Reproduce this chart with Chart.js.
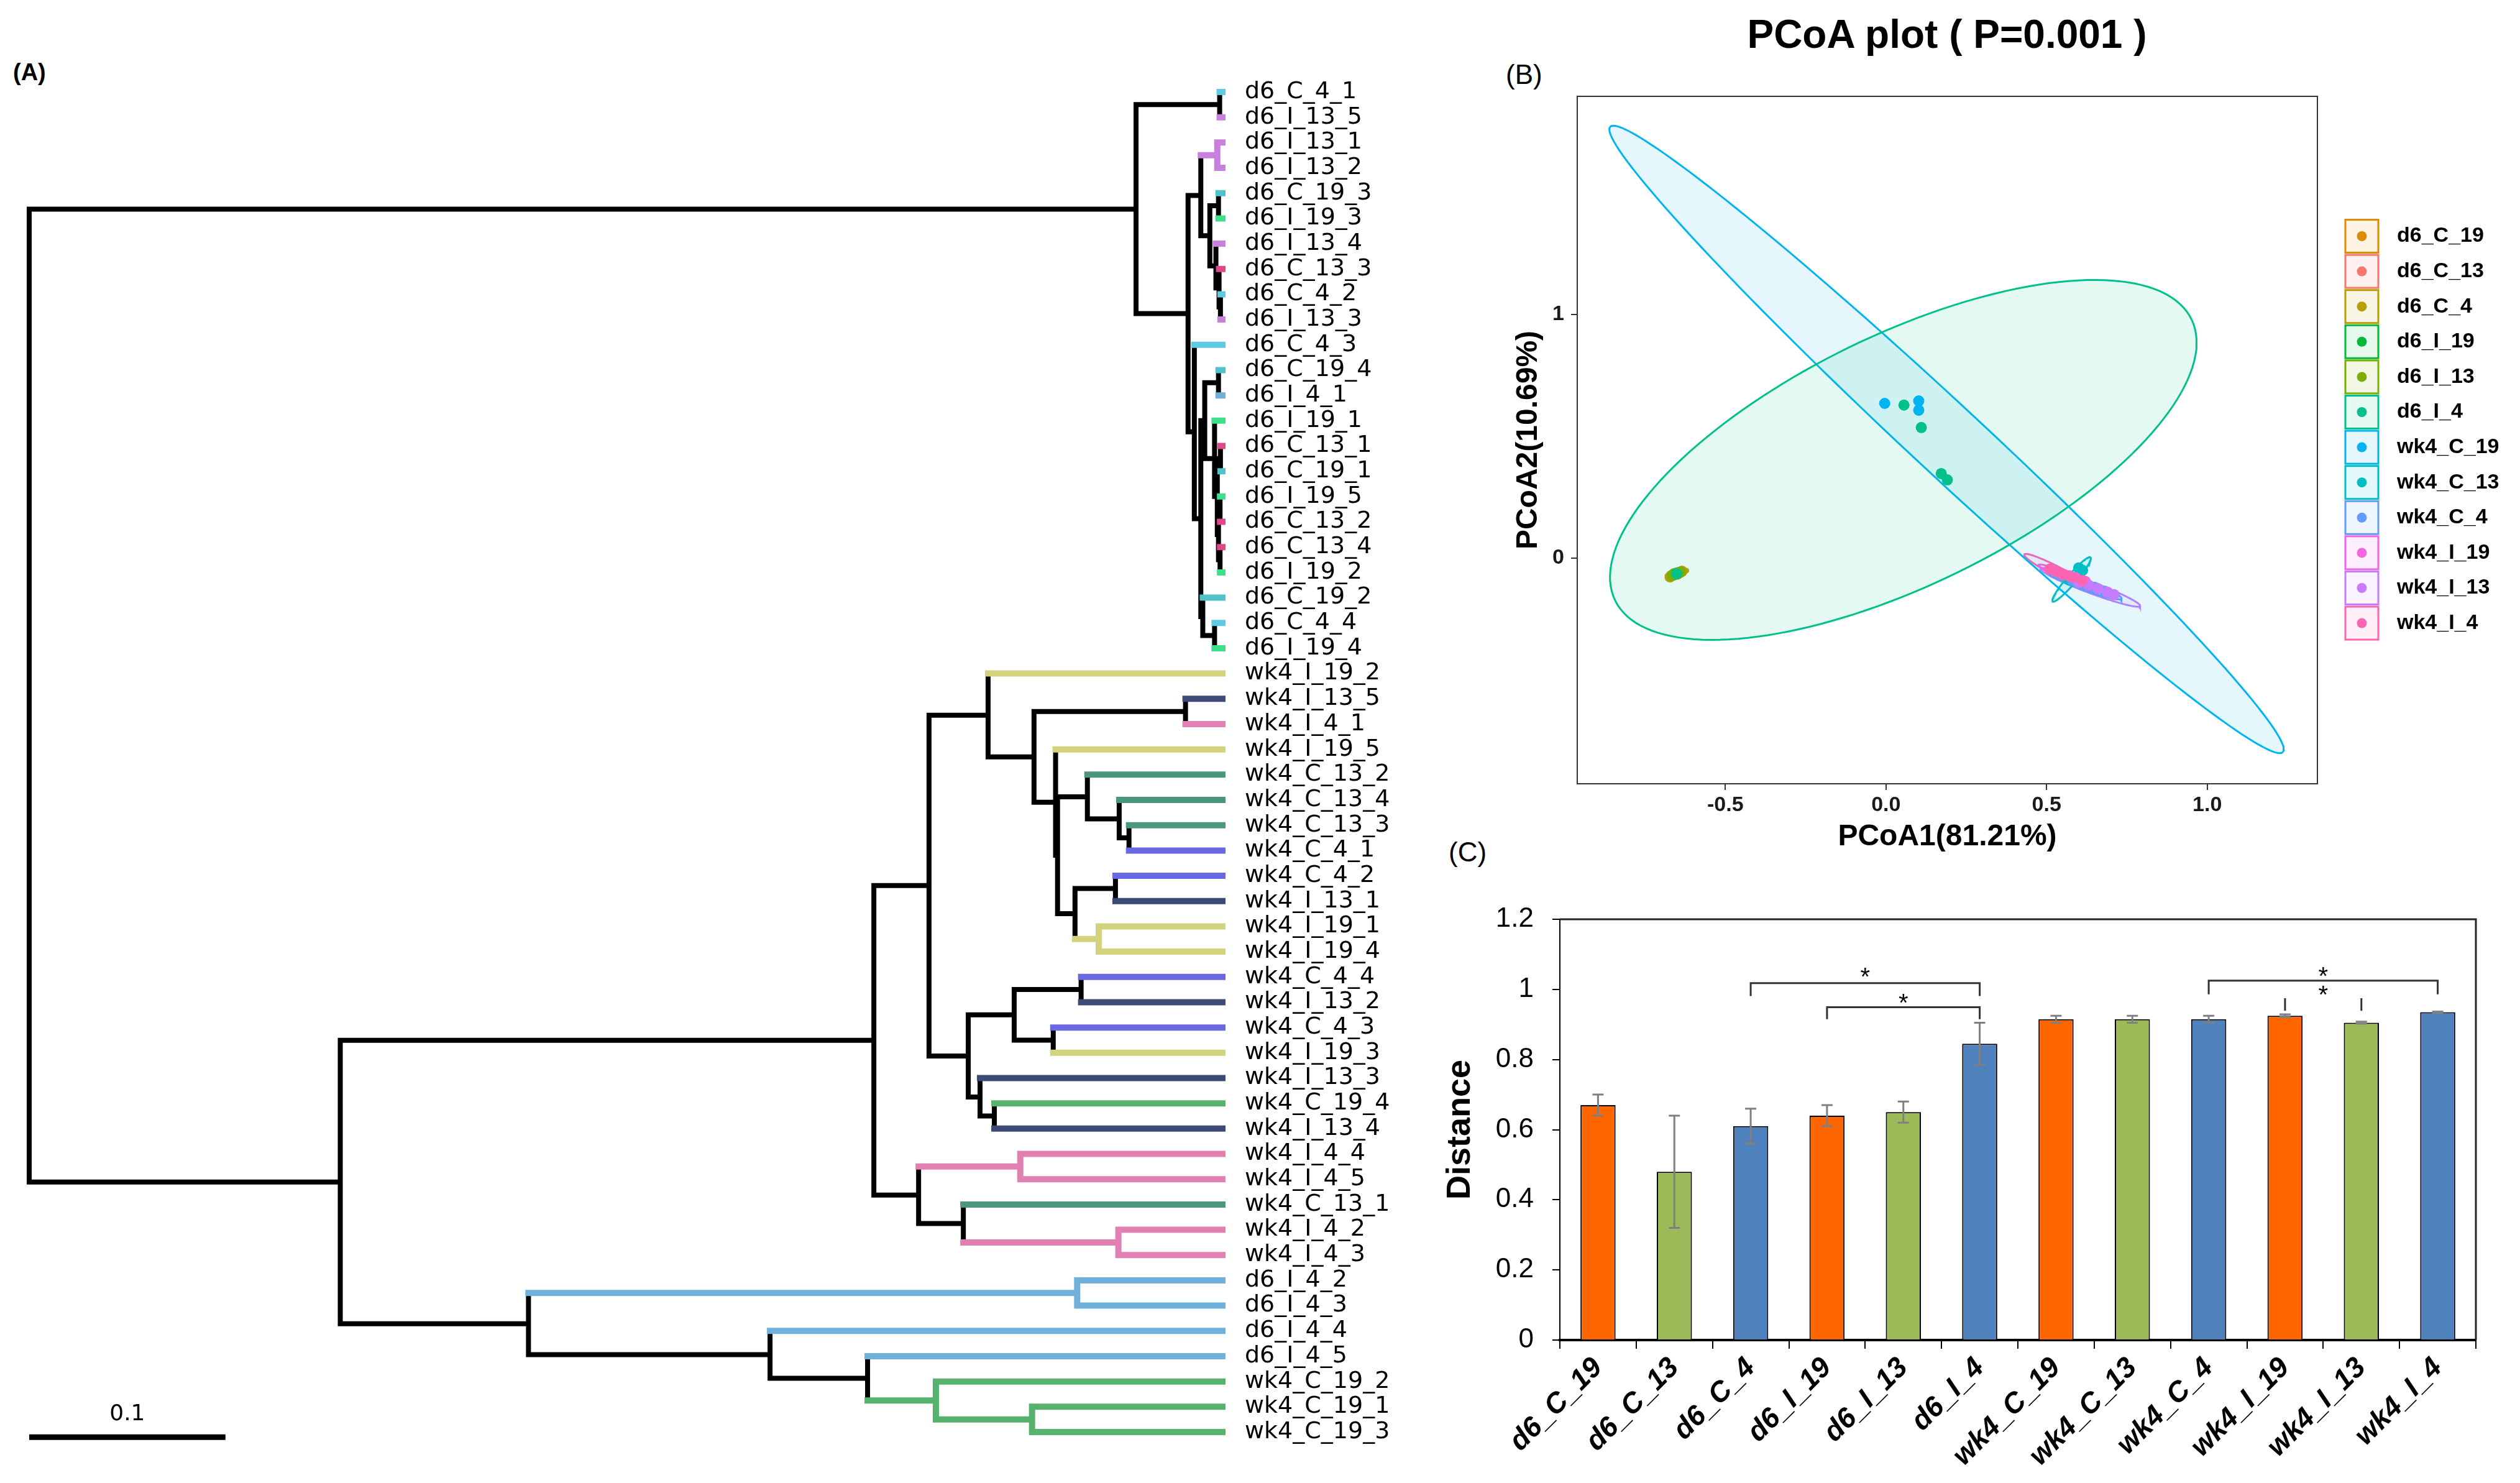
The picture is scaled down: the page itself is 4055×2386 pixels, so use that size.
<!DOCTYPE html>
<html><head><meta charset="utf-8">
<script src="https://cdn.jsdelivr.net/npm/chart.js@4.4.1/dist/chart.umd.min.js"></script>
<style>
html,body{margin:0;padding:0;background:#fff;}
body{width:4055px;height:2386px;position:relative;overflow:hidden;font-family:"Liberation Sans",Arial,sans-serif;}
canvas{position:absolute;}
.lbl{position:absolute;color:#000;white-space:nowrap;line-height:1.15;}
</style></head><body>
<div class="lbl" style="left:21px;top:95px;font-size:38px;font-weight:bold;">(A)</div>
<div class="lbl" style="left:2423px;top:95px;font-size:44px;">(B)</div>
<div class="lbl" style="left:2331px;top:1346px;font-size:44px;">(C)</div>
<div class="lbl" style="left:2683px;top:19px;width:900px;text-align:center;font-size:64px;font-weight:bold;">PCoA plot ( P=0.001 )</div>
<canvas id="cA" width="2380" height="2386" style="left:0;top:0;width:2380px;height:2386px"></canvas>
<canvas id="cB" width="1675" height="1420" style="left:2380px;top:0;width:1675px;height:1420px"></canvas>
<canvas id="cC" width="1755" height="1056" style="left:2300px;top:1330px;width:1755px;height:1056px"></canvas>
<script>
// ---------------- (A) tree data ----------------
const leafLabels = [
 'd6_C_4_1','d6_I_13_5','d6_I_13_1','d6_I_13_2','d6_C_19_3','d6_I_19_3','d6_I_13_4','d6_C_13_3','d6_C_4_2','d6_I_13_3',
 'd6_C_4_3','d6_C_19_4','d6_I_4_1','d6_I_19_1','d6_C_13_1','d6_C_19_1','d6_I_19_5','d6_C_13_2','d6_C_13_4','d6_I_19_2',
 'd6_C_19_2','d6_C_4_4','d6_I_19_4',
 'wk4_I_19_2','wk4_I_13_5','wk4_I_4_1','wk4_I_19_5','wk4_C_13_2','wk4_C_13_4','wk4_C_13_3','wk4_C_4_1','wk4_C_4_2','wk4_I_13_1',
 'wk4_I_19_1','wk4_I_19_4','wk4_C_4_4','wk4_I_13_2','wk4_C_4_3','wk4_I_19_3','wk4_I_13_3','wk4_C_19_4','wk4_I_13_4',
 'wk4_I_4_4','wk4_I_4_5','wk4_C_13_1','wk4_I_4_2','wk4_I_4_3',
 'd6_I_4_2','d6_I_4_3','d6_I_4_4','d6_I_4_5','wk4_C_19_2','wk4_C_19_1','wk4_C_19_3'
];
// tree topology: leaves are indices into leafLabels, number after ')' = node depth from root
const treeNewick =
 "(" +
  "((0,1)0.6066,(((2,3)0.6054,((4,5)0.606,(6,(7,(8,9)0.607)0.6063)0.6047)0.6016)0.597," +
  "(10,(((11,12)0.606,(13,((14,15)0.607,((16,17)0.6068,(18,19)0.6068)0.606)0.6054)0.604)0.599,(20,(21,22)0.604)0.598)0.597)0.5937)0.5905)0.564" +
  "," +
  "((((23,((24,25)0.5892,(26,((27,(28,(29,30)0.5604)0.5554)0.5392,((31,32)0.5535,(33,34)0.545)0.5329)0.524)0.523)0.512)0.4886," +
  "(((35,36)0.536,(37,38)0.5218)0.5019,(39,(40,41)0.4918)0.4845)0.4785)0.4585," +
  "((42,43)0.505,(44,(45,46)0.555)0.476)0.4532)0.4304," +
  "((47,48)0.534,(49,(50,(51,(52,53)0.511)0.462)0.4272)0.3775)0.2544)0.1585" +
 ")0";
const tipDepth = 0.608;
const treeScaleBar = 0.1;
const treeGroupNames  = ['d6_C_4','d6_I_13','d6_C_19','d6_I_19','d6_C_13','d6_I_4','wk4_I_19','wk4_I_13','wk4_I_4','wk4_C_13','wk4_C_4','wk4_C_19'];
const treeGroupColors = ['#5fcbe3','#c97fdc','#4fc3c9','#3fe08c','#e0468c','#6fb1dc','#d3d27f','#3d4a78','#e27fb3','#4b977c','#6868e0','#56b26c'];

// ---------------- (B) PCoA data ----------------
const pcoaGroups = ['d6_C_19','d6_C_13','d6_C_4','d6_I_19','d6_I_13','d6_I_4','wk4_C_19','wk4_C_13','wk4_C_4','wk4_I_19','wk4_I_13','wk4_I_4'];
const pcoaColors = ['#DE8C00','#F8766D','#B79F00','#00BA38','#7CAE00','#00C08B','#00B4F0','#00BFC4','#619CFF','#F564E3','#C77CFF','#FF64B0'];
const pcoaPC1 = [
 [-0.640,-0.655,-0.668,-0.645,-0.650],
 [-0.648,-0.660,-0.643,-0.655],
 [-0.635,-0.662,-0.672,-0.646],
 [-0.655,-0.648,-0.660,-0.644,-0.652],
 [-0.640,-0.656,-0.666,-0.650,-0.660],
 [-0.652,0.056,0.110,0.172,0.191],
 [-0.004,0.102,0.102,0.600],
 [0.600,0.612,0.570,0.585],
 [0.580,0.620,0.650,0.680],
 [0.530,0.550,0.570,0.590,0.620],
 [0.600,0.630,0.660,0.690,0.710],
 [0.510,0.530,0.555,0.580,0.610]
];
const pcoaPC2 = [
 [-0.058,-0.064,-0.072,-0.060,-0.066],
 [-0.062,-0.069,-0.059,-0.065],
 [-0.054,-0.070,-0.077,-0.062],
 [-0.063,-0.060,-0.067,-0.060,-0.064],
 [-0.057,-0.066,-0.071,-0.061,-0.064],
 [-0.064,0.628,0.536,0.347,0.321],
 [0.635,0.645,0.607,-0.090],
 [-0.040,-0.050,-0.090,-0.080],
 [-0.090,-0.105,-0.120,-0.135],
 [-0.055,-0.065,-0.072,-0.080,-0.095],
 [-0.100,-0.110,-0.125,-0.140,-0.150],
 [-0.045,-0.055,-0.068,-0.078,-0.092]
];
// confidence ellipses: centre and two conjugate semi-axis vectors (data units)
const ellipseCx = [-0.652,-0.650,-0.650,-0.652,-0.652,0.054,0.1886,0.578,0.617,0.555,0.636,0.538];
const ellipseCy = [-0.063,-0.063,-0.064,-0.064,-0.063,0.403,0.487,-0.087,-0.110,-0.068,-0.120,-0.059];
const ellipseUx = [0.030,0.022,0.034,0.020,0.028,0.897,1.047,0.059,0.116,0.080,0.155,0.107];
const ellipseUy = [0.014,0.010,0.016,0.010,0.013,0.577,-1.283,0.0906,-0.056,-0.040,-0.0765,-0.074];
const ellipseVx = [-0.004,-0.003,-0.004,-0.003,-0.004,0.170,0.075,0.011,-0.0053,-0.004,-0.0062,-0.0072];
const ellipseVy = [0.010,0.008,0.011,0.008,0.009,-0.461,0.107,-0.0125,-0.0195,-0.012,-0.0214,-0.018];
const pcoaXTicks = [-0.5,0,0.5,1.0];
const pcoaXTickLabels = ['-0.5','0.0','0.5','1.0'];
const pcoaYTicks = [0,1];
const pcoaYTickLabels = ['0','1'];

// ---------------- (C) bar data ----------------
const barCategories = ['d6_C_19','d6_C_13','d6_C_4','d6_I_19','d6_I_13','d6_I_4','wk4_C_19','wk4_C_13','wk4_C_4','wk4_I_19','wk4_I_13','wk4_I_4'];
const barValues = [0.67,0.48,0.61,0.64,0.65,0.845,0.915,0.915,0.915,0.925,0.905,0.935];
const barErrors = [0.03,0.16,0.05,0.03,0.03,0.06,0.01,0.01,0.01,0.004,0.003,0.002];
const barColors = ['#FF6600','#9BBB59','#4F81BD','#FF6600','#9BBB59','#4F81BD','#FF6600','#9BBB59','#4F81BD','#FF6600','#9BBB59','#4F81BD'];
const sigFrom = [2,3,8,9];
const sigTo = [5,5,11,10];
const sigBarY = [1.018,0.949,1.025,0.975];
const sigLegY = [0.981,0.915,0.986,0.939];
const sigStarY = [1.045,0.972,1.047,0.995];
const sigShowBar = [true,true,true,false];

// ---------------- helpers ----------------
function hexA(hex,a){const n=parseInt(hex.slice(1),16);return `rgba(${(n>>16)&255},${(n>>8)&255},${n&255},${a})`;}
function groupOf(label){return label.replace(/_\d+$/,'');}
function parseNewick(s){
  let i=0;
  function node(){
    if(s[i]==='('){
      i++; const ch=[node()];
      while(s[i]===','){i++; ch.push(node());}
      i++;
      let num=''; while(i<s.length && /[0-9.]/.test(s[i])) num+=s[i++];
      return {children:ch, depth:parseFloat(num)};
    }
    let num=''; while(i<s.length && /[0-9]/.test(s[i])) num+=s[i++];
    return {leaf:parseInt(num,10)};
  }
  return node();
}
function layoutTree(n){
  if(n.leaf!==undefined){n.x=tipDepth;n.y=n.leaf;n.groups=new Set([groupOf(leafLabels[n.leaf])]);return;}
  n.children.forEach(layoutTree);
  n.x=n.depth;
  n.y=(n.children[0].y+n.children[n.children.length-1].y)/2;
  n.groups=new Set();n.children.forEach(c=>c.groups.forEach(g=>n.groups.add(g)));
}
function nodeColor(n){
  if(n.groups.size===1){const g=[...n.groups][0];const k=treeGroupNames.indexOf(g);return k>=0?treeGroupColors[k]:'#000';}
  return '#000';
}
const treeRoot=parseNewick(treeNewick);
layoutTree(treeRoot);
const segs={};
function addSeg(color,x1,y1,x2,y2){(segs[color]=segs[color]||[]).push({x:x1,y:y1},{x:x2,y:y2},{x:null,y:null});}
(function walk(n){
  if(!n.children) return;
  const c0=n.children[0], c1=n.children[n.children.length-1];
  addSeg(nodeColor(n), n.x, c0.y, n.x, c1.y);
  n.children.forEach(c=>{addSeg(nodeColor(c), n.x, c.y, c.x, c.y); walk(c);});
})(treeRoot);
const treeDatasets=[];
Object.keys(segs).forEach(col=>{
  const black=col==='#000';
  treeDatasets.push({data:segs[col],showLine:true,pointRadius:0,borderColor:col,borderWidth:black?8:10,
    spanGaps:false,clip:false,borderCapStyle:'square',borderJoinStyle:'miter',fill:false,order:black?2:1});
});
treeDatasets.push({data:[{x:0,y:leafLabels.length-1+0.2},{x:treeScaleBar,y:leafLabels.length-1+0.2}],showLine:true,pointRadius:0,
  borderColor:'#000',borderWidth:9,clip:false,borderCapStyle:'butt',fill:false,order:0});

const scaleBarLabel={id:'sbl',afterDatasetsDraw(chart){
  const {ctx,scales:{x,y}}=chart;ctx.save();ctx.font='36px "DejaVu Sans"';ctx.fillStyle='#000';
  ctx.textAlign='center';ctx.textBaseline='middle';
  ctx.fillText(String(treeScaleBar),x.getPixelForValue(treeScaleBar/2),y.getPixelForValue(leafLabels.length-1-0.7));ctx.restore();}};

new Chart(document.getElementById('cA'),{
  type:'scatter',
  data:{datasets:treeDatasets},
  options:{responsive:false,animation:false,devicePixelRatio:1,events:[],
    layout:{padding:{left:47,top:148,bottom:82,right:13}},
    plugins:{legend:{display:false},tooltip:{enabled:false}},
    scales:{
      x:{type:'linear',min:0,max:tipDepth,display:false},
      y:{type:'linear',position:'right',min:0,max:leafLabels.length-1,reverse:true,
        afterFit(s){s.width=400;},
        afterBuildTicks(s){s.ticks=leafLabels.map((_,i)=>({value:i}));},
        grid:{display:false},border:{display:false},
        ticks:{autoSkip:false,padding:28,color:'#000',font:{family:'DejaVu Sans',size:38},callback:(v)=>leafLabels[v]}}
    }},
  plugins:[scaleBarLabel]
});

// ---------------- (B) chart ----------------
const pcoaDatasets=[];
pcoaGroups.forEach((g,i)=>{
  const pts=[];const N=160;
  for(let k=0;k<=N;k++){const t=2*Math.PI*k/N;
    pts.push({x:ellipseCx[i]+ellipseUx[i]*Math.cos(t)+ellipseVx[i]*Math.sin(t),
              y:ellipseCy[i]+ellipseUy[i]*Math.cos(t)+ellipseVy[i]*Math.sin(t)});}
  pcoaDatasets.push({label:g+' ellipse',data:pts,showLine:true,pointRadius:0,borderColor:pcoaColors[i],borderWidth:3,
    backgroundColor:hexA(pcoaColors[i],0.1),fill:'shape',order:1});
});
pcoaGroups.forEach((g,i)=>{
  pcoaDatasets.push({label:g,data:pcoaPC1[i].map((v,j)=>({x:v,y:pcoaPC2[i][j]})),pointRadius:9,pointBorderWidth:0,
    backgroundColor:pcoaColors[i],borderColor:pcoaColors[i],showLine:false,order:-i});
});
const boxPlugin={id:'box',afterDraw(chart){const a=chart.chartArea,ctx=chart.ctx;ctx.save();ctx.strokeStyle='#333';ctx.lineWidth=2;
  ctx.strokeRect(a.left,a.top,a.right-a.left,a.bottom-a.top);ctx.restore();}};
const pcoaLegend={id:'pleg',afterDraw(chart){
  const ctx=chart.ctx,a=chart.chartArea;const x0=a.right+45,y0=a.top+225,dy=56.6,s=53;
  pcoaGroups.forEach((g,i)=>{const cy=y0+i*dy;ctx.save();
    ctx.fillStyle=hexA(pcoaColors[i],0.1);ctx.fillRect(x0,cy-s/2,s,s);
    ctx.strokeStyle=pcoaColors[i];ctx.lineWidth=3;ctx.strokeRect(x0,cy-s/2,s,s);
    ctx.beginPath();ctx.arc(x0+s/2,cy,8,0,Math.PI*2);ctx.fillStyle=pcoaColors[i];ctx.fill();
    ctx.fillStyle='#000';ctx.font='bold 34px "Liberation Sans"';ctx.textAlign='left';ctx.textBaseline='middle';
    ctx.fillText(g,x0+83,cy);ctx.restore();});
}};
new Chart(document.getElementById('cB'),{
  type:'scatter',
  data:{datasets:pcoaDatasets},
  options:{responsive:false,animation:false,devicePixelRatio:1,events:[],
    layout:{padding:{left:0,top:155,right:326,bottom:0}},
    plugins:{legend:{display:false},tooltip:{enabled:false}},
    scales:{
      x:{type:'linear',min:-0.961,max:1.343,afterFit(s){s.height=159;},
        afterBuildTicks(s){s.ticks=pcoaXTicks.map(v=>({value:v}));},
        grid:{display:true,drawOnChartArea:false,drawTicks:true,tickLength:10,color:'#333',lineWidth:2},
        border:{display:true,color:'#333',width:2},
        ticks:{color:'#1a1a1a',padding:4,font:{family:'Liberation Sans',size:34,weight:'bold'},callback:(v,i)=>pcoaXTickLabels[i]},
        title:{display:true,text:'PCoA1(81.21%)',color:'#000',font:{family:'Liberation Sans',size:48,weight:'bold'},padding:{top:0,bottom:44}}},
      y:{type:'linear',min:-0.926,max:1.895,afterFit(s){s.width=158;},
        afterBuildTicks(s){s.ticks=pcoaYTicks.map(v=>({value:v}));},
        grid:{display:true,drawOnChartArea:false,drawTicks:true,tickLength:10,color:'#333',lineWidth:2},
        border:{display:true,color:'#333',width:2},
        ticks:{color:'#1a1a1a',padding:11,font:{family:'Liberation Sans',size:34,weight:'bold'},callback:(v,i)=>pcoaYTickLabels[i]},
        title:{display:true,text:'PCoA2(10.69%)',color:'#000',font:{family:'Liberation Sans',size:48,weight:'bold'},padding:{top:51,bottom:0}}}
    }},
  plugins:[boxPlugin,pcoaLegend]
});

// ---------------- (C) chart ----------------
const errPlugin={id:'err',afterDatasetsDraw(chart){
  const ctx=chart.ctx,meta=chart.getDatasetMeta(0),y=chart.scales.y;ctx.save();
  ctx.strokeStyle='#808080';ctx.lineWidth=3;
  barValues.forEach((v,i)=>{const x=meta.data[i].x,yh=y.getPixelForValue(v+barErrors[i]),yl=y.getPixelForValue(v-barErrors[i]);
    ctx.beginPath();ctx.moveTo(x,yh);ctx.lineTo(x,yl);ctx.moveTo(x-9,yh);ctx.lineTo(x+9,yh);ctx.moveTo(x-9,yl);ctx.lineTo(x+9,yl);ctx.stroke();});
  ctx.restore();}};
const sigPlugin={id:'sig',afterDatasetsDraw(chart){
  const ctx=chart.ctx,x=chart.scales.x,y=chart.scales.y;ctx.save();
  ctx.strokeStyle='#333';ctx.lineWidth=3;ctx.fillStyle='#000';ctx.font='40px "Liberation Sans"';ctx.textAlign='center';ctx.textBaseline='middle';
  sigFrom.forEach((f,i)=>{const x1=x.getPixelForValue(f),x2=x.getPixelForValue(sigTo[i]);
    const yb=y.getPixelForValue(sigBarY[i]),yl=y.getPixelForValue(sigLegY[i]);
    ctx.beginPath();
    if(sigShowBar[i]){ctx.moveTo(x1,yl);ctx.lineTo(x1,yb);ctx.lineTo(x2,yb);ctx.lineTo(x2,yl);}
    else{ctx.moveTo(x1,yl);ctx.lineTo(x1,yb);ctx.moveTo(x2,yl);ctx.lineTo(x2,yb);}
    ctx.stroke();
    ctx.fillText('*',(x1+x2)/2,y.getPixelForValue(sigStarY[i])+8);});
  const a=chart.chartArea;ctx.strokeStyle='#222';ctx.lineWidth=3;ctx.beginPath();
  ctx.moveTo(a.left,a.top);ctx.lineTo(a.right,a.top);ctx.lineTo(a.right,a.bottom);ctx.stroke();
  ctx.restore();}};
new Chart(document.getElementById('cC'),{
  type:'bar',
  data:{labels:barCategories,datasets:[{data:barValues,backgroundColor:barColors,borderColor:'#000',borderWidth:2,
    categoryPercentage:1,barPercentage:0.46}]},
  options:{responsive:false,animation:false,devicePixelRatio:1,events:[],
    layout:{padding:{left:0,top:149,right:71,bottom:0}},
    plugins:{legend:{display:false},tooltip:{enabled:false}},
    scales:{
      x:{afterFit(s){s.height=230;},
        grid:{offset:true,drawOnChartArea:false,drawTicks:true,tickLength:14,color:'#000',lineWidth:2},
        border:{display:true,color:'#000',width:4},
        ticks:{autoSkip:false,minRotation:45,maxRotation:45,padding:4,color:'#000',
          font:{family:'Liberation Sans',size:46,weight:'bold',style:'italic'}}},
      y:{min:0,max:1.2,afterFit(s){s.width=210;},
        grid:{drawOnChartArea:false,drawTicks:true,tickLength:12,color:'#000',lineWidth:2},
        border:{display:true,color:'#000',width:2},
        ticks:{stepSize:0.2,padding:30,color:'#000',font:{family:'Liberation Sans',size:44},callback:(v)=>String(Math.round(v*10)/10)},
        title:{display:true,text:'Distance',color:'#000',font:{family:'Liberation Sans',size:54,weight:'bold'},padding:{top:18,bottom:0}}}
    }},
  plugins:[errPlugin,sigPlugin]
});
</script>
</body></html>
